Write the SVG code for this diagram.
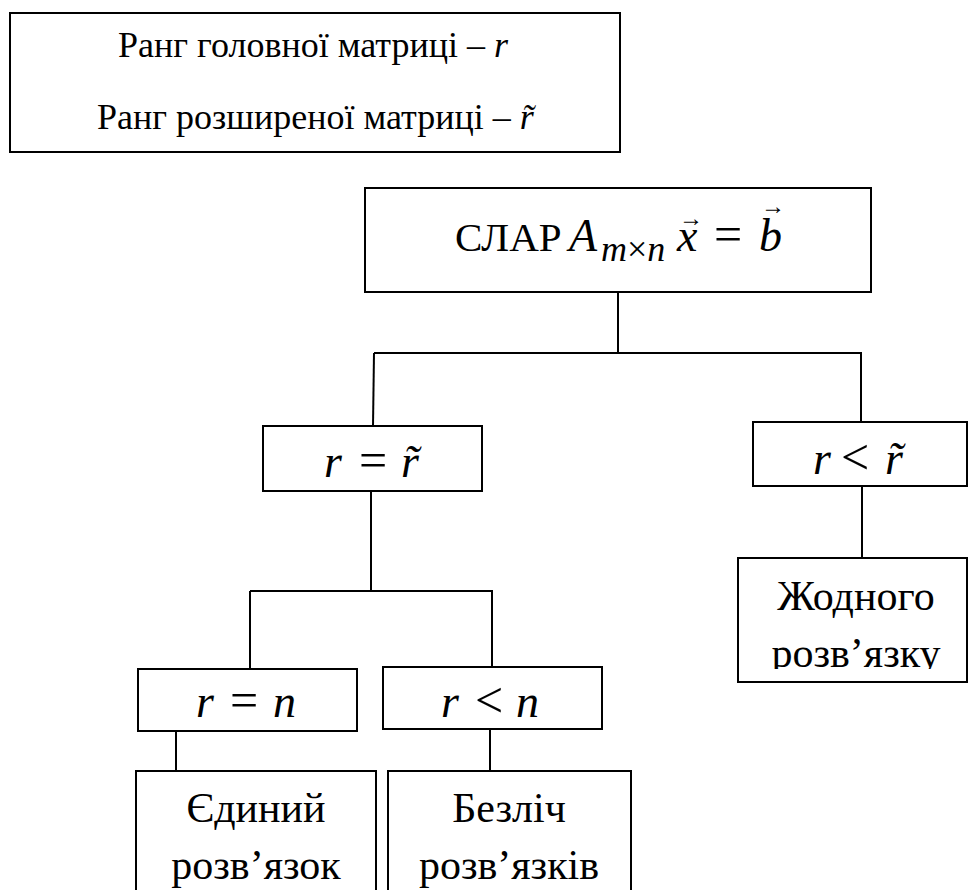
<svg xmlns="http://www.w3.org/2000/svg" width="968" height="890" viewBox="0 0 968 890">
  <style>
    .box { fill: #ffffff; stroke: #000000; stroke-width: 2; }
    .ln { fill: none; stroke: #000000; stroke-width: 2; }
    .t { font-family: "Liberation Serif", "Times New Roman", serif; fill: #000000; }
    .m { font-family: "Liberation Serif", "Times New Roman", serif; font-style: italic; fill: #000000; font-size: 46px; }
    .op { font-style: normal; font-size: 50px; }
  </style>
  <defs>
    <clipPath id="clipNone">
      <rect x="738" y="558" width="230" height="111"/>
    </clipPath>
  </defs>
  <rect x="0" y="0" width="968" height="890" fill="#ffffff"/>

  <g id="connectors">
    <line class="ln" x1="618" y1="292" x2="618" y2="353"/>
    <line class="ln" x1="374" y1="353" x2="862" y2="353"/>
    <line class="ln" x1="374" y1="353" x2="373" y2="426"/>
    <line class="ln" x1="861" y1="353" x2="861" y2="422"/>
    <line class="ln" x1="371" y1="491" x2="371" y2="591"/>
    <line class="ln" x1="250" y1="591" x2="493" y2="591"/>
    <line class="ln" x1="250" y1="591" x2="250" y2="669"/>
    <line class="ln" x1="492" y1="591" x2="492" y2="667"/>
    <line class="ln" x1="862" y1="486" x2="862" y2="558"/>
    <line class="ln" x1="176" y1="731" x2="176" y2="771"/>
    <line class="ln" x1="490" y1="729" x2="490" y2="771"/>
  </g>

  <g id="legend">
    <rect class="box" x="10" y="13" width="610" height="139"/>
    <text class="t" x="118" y="57" font-size="36">Ранг головної матриці – <tspan font-style="italic">r</tspan></text>
    <text class="t" x="97" y="129" font-size="36">Ранг розширеної матриці – <tspan font-style="italic">r̃</tspan></text>
  </g>

  <g id="slar">
    <rect class="box" x="365" y="188" width="506" height="104"/>
    <text class="t" x="455" y="251" font-size="41">СЛАР</text>
    <text class="t" x="569" y="251" font-size="46" font-style="italic">A</text>
    <text class="t" x="601" y="261" font-size="36" font-style="italic">m<tspan font-style="normal">×</tspan>n</text>
    <text class="t" x="677" y="251" font-size="46" font-style="italic">x</text>
    <text class="t" x="691" y="226" font-size="24" text-anchor="middle">→</text>
    <text class="t" x="714" y="251" font-size="50">=</text>
    <text class="t" x="759" y="251" font-size="46" font-style="italic">b</text>
    <text class="t" x="773" y="214" font-size="24" text-anchor="middle">→</text>
  </g>

  <g id="r-eq-rt">
    <rect class="box" x="263" y="426" width="219" height="65"/>
    <text class="m" y="477"><tspan x="324">r</tspan><tspan class="op" x="359">=</tspan><tspan x="401">r̃</tspan></text>
  </g>

  <g id="r-lt-rt">
    <rect class="box" x="753" y="422" width="214" height="64"/>
    <text class="m" y="474"><tspan x="813">r</tspan><tspan class="op" x="841">&lt;</tspan><tspan x="885">r̃</tspan></text>
  </g>

  <g id="none">
    <rect class="box" x="738" y="558" width="229" height="124"/>
    <g clip-path="url(#clipNone)">
      <text class="t" x="856" y="610" font-size="42" text-anchor="middle">Жодного</text>
      <text class="t" x="856" y="667" font-size="42" text-anchor="middle">розв’язку</text>
    </g>
  </g>

  <g id="r-eq-n">
    <rect class="box" x="138" y="669" width="219" height="62"/>
    <text class="m" y="717"><tspan x="196">r</tspan><tspan class="op" x="230">=</tspan><tspan x="273">n</tspan></text>
  </g>

  <g id="r-lt-n">
    <rect class="box" x="383" y="667" width="219" height="62"/>
    <text class="m" y="717"><tspan x="441">r</tspan><tspan class="op" x="475">&lt;</tspan><tspan x="516">n</tspan></text>
  </g>

  <g id="unique">
    <rect class="box" x="136" y="771" width="240" height="140"/>
    <text class="t" x="256" y="822" font-size="42" text-anchor="middle">Єдиний</text>
    <text class="t" x="256" y="879" font-size="42" text-anchor="middle">розв’язок</text>
  </g>

  <g id="infinite">
    <rect class="box" x="388" y="771" width="243" height="140"/>
    <text class="t" x="509" y="822" font-size="42" text-anchor="middle">Безліч</text>
    <text class="t" x="509" y="879" font-size="42" text-anchor="middle">розв’язків</text>
  </g>
</svg>
